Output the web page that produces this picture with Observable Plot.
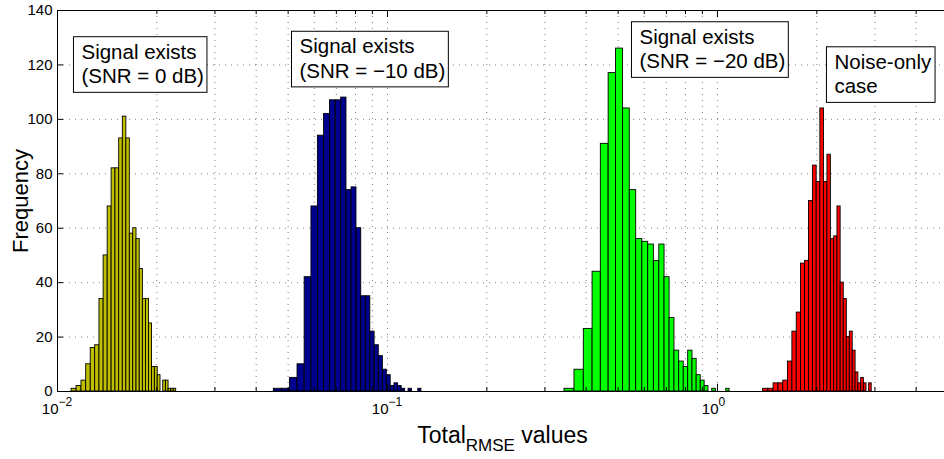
<!DOCTYPE html>
<html>
<head>
<meta charset="utf-8">
<script src="https://cdn.jsdelivr.net/npm/d3@7"></script>
<script src="https://cdn.jsdelivr.net/npm/@observablehq/plot@0.6"></script>
<style>
  html, body { margin: 0; padding: 0; background: #fff; overflow: hidden; }
  #chart svg { display: block; }
</style>
</head>
<body>
<div id="chart"></div>
<script>
// Histograms of Total_RMSE over 1000 trials per case, 30 equal-width bins each.
const caseNames = ["SNR = 0 dB", "SNR = −10 dB", "SNR = −20 dB", "Noise-only"];
const binRanges = [
  [0.01103, 0.02289],
  [0.04524, 0.1267],
  [0.3439, 1.088],
  [1.375, 2.933]
];
const countsSnr0 = [1, 2, 4, 10, 16, 17, 34, 50, 68, 82, 82, 93, 101, 93, 58, 60, 56, 45, 34, 34, 25, 9, 9, 6, 0, 4, 4, 1, 1, 1];
const countsSnr10 = [1, 1, 5, 10, 42, 68, 94, 102, 107, 107, 108, 74, 75, 60, 35, 35, 22, 17, 13, 8, 6, 2, 3, 2, 1, 0, 1, 0, 0, 1];
const countsSnr20 = [1, 8, 23, 44, 91, 117, 126, 104, 74, 56, 55, 54, 48, 54, 42, 27, 15, 11, 9, 15, 12, 6, 4, 2, 0, 1, 0, 0, 0, 1];
const countsNoise = [1, 1, 3, 3, 4, 11, 22, 29, 47, 48, 70, 83, 77, 104, 77, 87, 56, 57, 68, 40, 34, 20, 22, 15, 7, 3, 5, 3, 0, 3];
const allCounts = [countsSnr0, countsSnr10, countsSnr20, countsNoise];

// Axis ticks
const yTicks = [0, 20, 40, 60, 80, 100, 120, 140];
const xDecades = [0.01, 0.1, 1];
const xExponents = ["−2", "−1", "0"];

// Text boxes placed in data space
const noteText = [
  "Signal exists\n(SNR = 0 dB)",
  "Signal exists\n(SNR = −10 dB)",
  "Signal exists\n(SNR = −20 dB)",
  "Noise-only\ncase"
];
const noteX = [0.01182, 0.05412, 0.5802, 2.262];
const noteY = [128.7, 130.7, 134.2, 125];

// Styling
const caseColors = ["#bfbf00", "#00008f", "#00ff00", "#ff0000"];
const W = 944, H = 459;
const mL = 57, mR = 0, mT = 10, mB = 68;
const xDomain = [0.01, 4.875];
const font = "'Liberation Sans', Arial, Helvetica, sans-serif";

// Bin rectangles
const bars = [];
allCounts.forEach((counts, s) => {
  const [lo, hi] = binRanges[s];
  const w = (hi - lo) / counts.length;
  counts.forEach((c, i) => {
    bars.push({ series: caseNames[s], x1: lo + i * w, x2: lo + (i + 1) * w, count: c });
  });
});

// Log grid positions (1..9 per decade)
const gridX = [];
xDecades.forEach(d => {
  for (let k = 1; k <= 9; k++) {
    const v = d * k;
    if (v <= xDomain[1]) gridX.push(v);
  }
});
const minorX = gridX.filter(v => !xDecades.includes(v));

const notes = noteText.map((t, i) => ({ label: t, x: noteX[i], y: noteY[i] }));

const innerW = W - mL - mR, innerH = H - mT - mB;
const dotted = { stroke: "#000", strokeOpacity: 0.5, strokeDasharray: "1,5", strokeWidth: 1 };

const svg = Plot.plot({
  width: W,
  height: H,
  marginLeft: mL,
  marginRight: mR,
  marginTop: mT,
  marginBottom: mB,
  style: { fontFamily: font, background: "white", color: "#000" },
  x: { type: "log", domain: xDomain, axis: null },
  y: { domain: [0, 140], axis: null },
  color: { domain: caseNames, range: caseColors },
  marks: [
    // dotted grid
    Plot.ruleY(yTicks.filter(d => d > 0 && d < 140), dotted),
    Plot.ruleX(gridX.filter(v => v > xDomain[0]), dotted),
    // histogram bars
    Plot.rectY(bars, { x1: "x1", x2: "x2", y1: 0, y2: "count", fill: "series", stroke: "#000", strokeWidth: 0.9 }),
    // axes box
    Plot.ruleY([0, 140], { stroke: "#000", strokeWidth: 1 }),
    Plot.ruleX([xDomain[0]], { stroke: "#000", strokeWidth: 1 }),
    // inward tick marks
    Plot.tickY(yTicks, { insetRight: innerW - 6, stroke: "#000" }),
    Plot.tickX(xDecades, { insetTop: innerH - 7, stroke: "#000" }),
    Plot.tickX(xDecades, { insetBottom: innerH - 7, stroke: "#000" }),
    Plot.tickX(minorX, { insetTop: innerH - 4, stroke: "#000" }),
    Plot.tickX(minorX, { insetBottom: innerH - 4, stroke: "#000" }),
    // tick labels
    Plot.text(yTicks, { y: d => d, frameAnchor: "left", text: d => String(d), textAnchor: "end", lineAnchor: "middle", dx: -5, fontSize: 15 }),
    Plot.text(xDecades, { x: d => d, frameAnchor: "bottom", text: () => "10", textAnchor: "end", lineAnchor: "middle", dx: 1, dy: 17.5, fontSize: 15 }),
    Plot.text(xDecades, { x: d => d, frameAnchor: "bottom", text: (d, i) => xExponents[i], textAnchor: "start", lineAnchor: "middle", dx: 1, dy: 10.5, fontSize: 12 }),
    // axis titles
    Plot.text(["Frequency"], { frameAnchor: "left", text: d => d, rotate: -90, textAnchor: "middle", lineAnchor: "middle", dx: -37, fontSize: 22 }),
    Plot.text(["Total"], { frameAnchor: "bottom", text: d => d, textAnchor: "middle", lineAnchor: "middle", dy: 44, dx: 1.5, fontSize: 23 }),
    // annotations
    Plot.text(notes, { x: "x", y: "y", text: "label", textAnchor: "start", lineAnchor: "top", fontSize: 20.5, lineHeight: 1.2, fill: "#000" })
  ]
});

document.getElementById("chart").append(svg);

const NS = "http://www.w3.org/2000/svg";
const allTexts = Array.from(svg.querySelectorAll("text"));

// x-axis title with subscript
const xl = allTexts.find(t => t.textContent === "Total");
if (xl) {
  xl.textContent = "";
  const t1 = document.createElementNS(NS, "tspan");
  t1.textContent = "Total";
  const t2 = document.createElementNS(NS, "tspan");
  t2.textContent = "RMSE";
  t2.setAttribute("font-size", "17");
  t2.setAttribute("dy", "8");
  const t3 = document.createElementNS(NS, "tspan");
  t3.textContent = " values";
  t3.setAttribute("dy", "-8");
  xl.append(t1, t2, t3);
}

// white framed boxes behind the annotations
const noteKeys = noteText.map(s => s.replace(/\n/g, ""));
allTexts.filter(t => noteKeys.includes(t.textContent)).forEach(t => {
  const b = t.getBBox();
  const r = document.createElementNS(NS, "rect");
  r.setAttribute("x", b.x - 8);
  r.setAttribute("y", b.y - 3);
  r.setAttribute("width", b.width + 11);
  r.setAttribute("height", b.height + 8);
  r.setAttribute("fill", "#fff");
  r.setAttribute("stroke", "#000");
  r.setAttribute("stroke-width", "1");
  const tr = t.getAttribute("transform");
  if (tr) r.setAttribute("transform", tr);
  t.parentNode.insertBefore(r, t);
});
</script>
</body>
</html>
